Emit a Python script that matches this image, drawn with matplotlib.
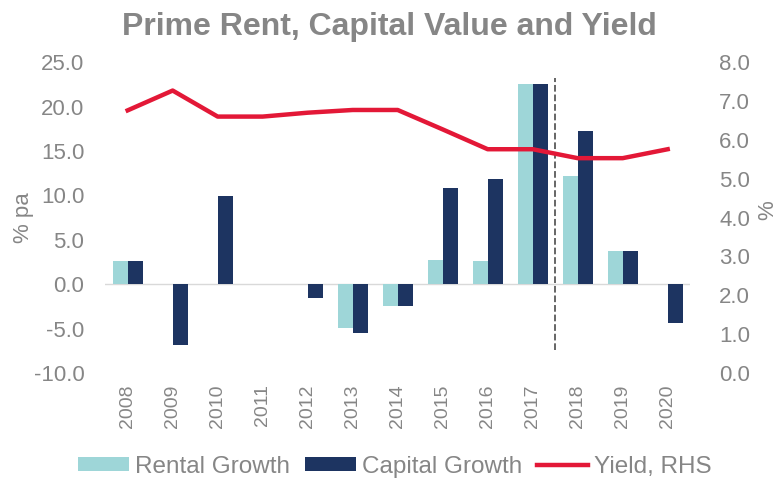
import matplotlib.pyplot as plt
import numpy as np

plt.rcParams.update({
    "font.family": "sans-serif",
    "font.sans-serif": ["Liberation Sans", "DejaVu Sans"],
})

years = ["2008", "2009", "2010", "2011", "2012", "2013", "2014",
         "2015", "2016", "2017", "2018", "2019", "2020"]
rental_growth = [2.6, 0.0, 0.0, 0.0, 0.0, -4.9, -2.5, 2.7, 2.6, 22.5, 12.2, 3.7, 0.0]
capital_growth = [2.6, -6.8, 9.9, 0.0, -1.5, -5.5, -2.5, 10.8, 11.8, 22.5, 17.2, 3.7, -4.4]
yield_rhs = [6.76, 7.27, 6.6, 6.6, 6.7, 6.77, 6.77, 6.27, 5.76, 5.76, 5.53, 5.53, 5.76]

grey = "#868686"
teal = "#9ed6d8"
navy = "#1d3461"
red = "#e31837"

fig = plt.figure(figsize=(7.79, 4.82), dpi=100)
ax = fig.add_axes([0.135, 0.226, 0.751, 0.645])
ax2 = ax.twinx()

x = np.arange(len(years))
width = 0.33

ax.bar(x - width / 2, rental_growth, width=width, color=teal, label="Rental Growth", zorder=2)
ax.bar(x + width / 2, capital_growth, width=width, color=navy, label="Capital Growth", zorder=2)
ax.axhline(0, color="#d9d9d9", linewidth=1, zorder=1)

ax2.plot(x, yield_rhs, color=red, linewidth=3.2, label="Yield, RHS", zorder=3)

# forecast divider
ax.axvline(9.5, ymin=0.074, ymax=0.95, color="#595959", linestyle="--", linewidth=1.3, zorder=4)

ax.set_xlim(-0.5, len(years) - 0.5)
ax.set_ylim(-10, 25)
ax.set_yticks(np.arange(-10, 26, 5))
ax.set_yticklabels([f"{v:.1f}" for v in np.arange(-10, 26, 5)])
ax2.set_ylim(0, 8)
ax2.set_yticks(np.arange(0, 9, 1))
ax2.set_yticklabels([f"{v:.1f}" for v in np.arange(0, 9, 1)])

ax.set_xticks(x)
ax.set_xticklabels(years, rotation=90)

for a in (ax, ax2):
    for s in a.spines.values():
        s.set_visible(False)
    a.tick_params(length=0, colors=grey, labelsize=16)
ax.tick_params(axis="x", labelsize=14, pad=8)
ax.tick_params(axis="y", pad=15)
ax2.tick_params(axis="y", pad=21)

ax.set_ylabel("% pa", color=grey, fontsize=16, labelpad=0)
# right-hand label placed by hand so it sits just outside the tick labels
fig.text(1 - 11 / 779, 1 - 210 / 482, "%", rotation=90, ha="center", va="center",
         color=grey, fontsize=16)

fig.text(0.5, 1 - 35 / 482, "Prime Rent, Capital Value and Yield", ha="center",
         va="baseline", fontsize=23, fontweight="bold", color=grey)

h1, l1 = ax.get_legend_handles_labels()
h2, l2 = ax2.get_legend_handles_labels()
leg = fig.legend(h1 + h2, l1 + l2, loc="center", bbox_to_anchor=(0.507, 1 - 467 / 482),
                 ncol=3, frameon=False, fontsize=17.5, handlelength=2.1,
                 handleheight=0.5, handletextpad=0.25, columnspacing=0.6)
for t in leg.get_texts():
    t.set_color(grey)

fig.savefig("out.png", dpi=100)
